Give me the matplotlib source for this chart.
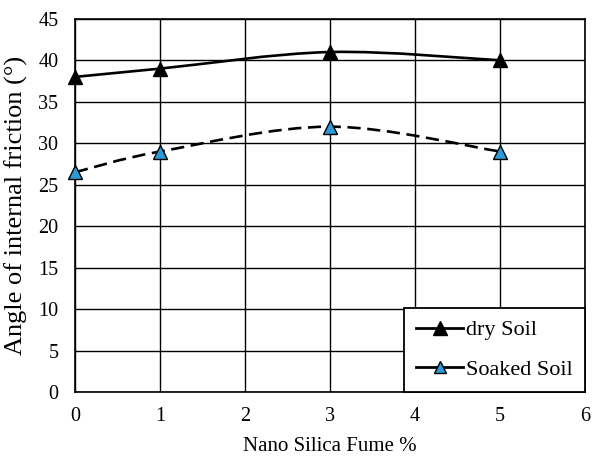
import matplotlib
matplotlib.use("Agg")
import matplotlib.pyplot as plt
import numpy as np
from matplotlib.path import Path
from matplotlib.patches import PathPatch
from matplotlib.lines import Line2D

nano_silica = [0, 1, 3, 5]
dry_soil = [38, 39, 41, 40]
soaked_soil = [26.5, 29, 32, 29]

x_ticks = [0, 1, 2, 3, 4, 5, 6]
y_ticks = [0, 5, 10, 15, 20, 25, 30, 35, 40, 45]

BLUE = "#2b9ad6"


def smooth_path(xs, ys):
    # excel style smoothed line: catmull-rom bezier segments
    pts = np.column_stack([xs, ys]).astype(float)
    verts = [pts[0]]
    codes = [Path.MOVETO]
    n = len(pts)
    for i in range(n - 1):
        p0 = pts[i - 1] if i > 0 else pts[i]
        p1 = pts[i]
        p2 = pts[i + 1]
        p3 = pts[i + 2] if i + 2 < n else pts[i + 1]
        c1 = p1 + (p2 - p0) / 6.0
        c2 = p2 - (p3 - p1) / 6.0
        verts += [c1, c2, p2]
        codes += [Path.CURVE4] * 3
    return Path(verts, codes)


plt.rcParams["font.family"] = ["Liberation Serif", "DejaVu Serif"]

fig = plt.figure(figsize=(6.02, 4.63), dpi=100)
ax = fig.add_axes([0.1246, 0.1533, 0.8475, 0.806])

ax.set_xlim(0, 6)
ax.set_ylim(0, 45)
ax.set_xticks(x_ticks)
ax.set_yticks(y_ticks)
ax.grid(True, color="black", linewidth=1.0)
ax.set_axisbelow(True)
ax.tick_params(length=0, labelsize=14.5)
ax.tick_params(axis="x", pad=11)
ax.tick_params(axis="y", pad=12)

for s in ax.spines.values():
    s.set_color("black")
    s.set_linewidth(1.2)

ax.add_patch(PathPatch(smooth_path(nano_silica, dry_soil), fill=False,
                       edgecolor="black", linewidth=1.9, zorder=3))
ax.add_patch(PathPatch(smooth_path(nano_silica, soaked_soil), fill=False,
                       edgecolor="black", linewidth=1.9, linestyle=(0, (5, 2.5)),
                       zorder=3))

ax.plot(nano_silica, dry_soil, linestyle="none", marker="^", markersize=10.5,
        markerfacecolor="black", markeredgecolor="black", zorder=4, clip_on=False)
ax.plot(nano_silica, soaked_soil, linestyle="none", marker="^", markersize=10.5,
        markerfacecolor=BLUE, markeredgecolor="black", markeredgewidth=1.0,
        zorder=4, clip_on=False)

ax.set_xlabel("Nano Silica Fume %", fontsize=15, labelpad=8)
ax.set_ylabel("Angle of internal friction (°)", fontsize=19, labelpad=7)

handles = [
    Line2D([], [], color="black", linewidth=2, marker="^", markersize=10,
           markerfacecolor="black", markeredgecolor="black"),
    Line2D([], [], color="black", linewidth=2, marker="^", markersize=8,
           markerfacecolor=BLUE, markeredgecolor="black"),
]
leg = ax.legend(handles, ["dry Soil", "Soaked Soil"], loc="lower right",
                bbox_to_anchor=(1.0, 0.0), borderaxespad=0, fancybox=False,
                framealpha=1, edgecolor="black", fontsize=16, handlelength=2.1,
                handletextpad=0.15, labelspacing=0.85, borderpad=0.55)
leg.get_frame().set_linewidth(1.3)
leg.set_zorder(5)

fig.savefig("out.png", dpi=100)
